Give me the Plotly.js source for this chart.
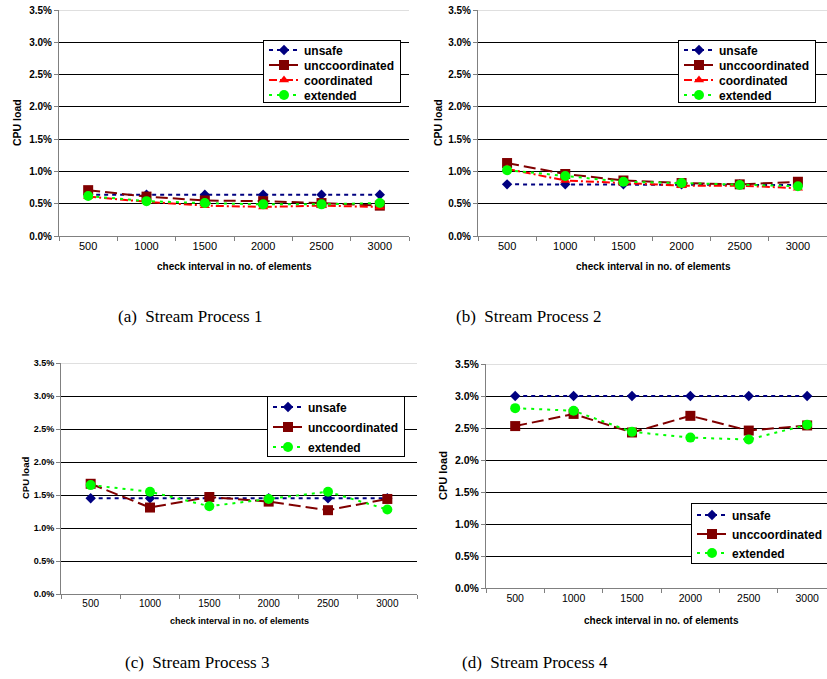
<!DOCTYPE html>
<html><head><meta charset="utf-8">
<script src="https://cdn.plot.ly/plotly-3.0.1.min.js"></script>
<style>html,body{margin:0;padding:0;background:#fff}#chart{width:827px;height:679px}</style>
</head><body><div id="chart"></div>
<script>
// ---------- data ----------
const categories = ['500', '1000', '1500', '2000', '2500', '3000'];
const seriesNames = ['unsafe', 'unccoordinated', 'coordinated', 'extended'];

// (a) Stream Process 1  (CPU load, %)
const sp1Unsafe   = [0.64, 0.64, 0.64, 0.64, 0.64, 0.64];
const sp1Uncoord  = [0.71, 0.61, 0.55, 0.54, 0.51, 0.47];
const sp1Coord    = [0.61, 0.53, 0.47, 0.45, 0.47, 0.45];
const sp1Extended = [0.62, 0.54, 0.51, 0.49, 0.49, 0.51];
// (b) Stream Process 2
const sp2Unsafe   = [0.80, 0.80, 0.80, 0.80, 0.80, 0.79];
const sp2Uncoord  = [1.13, 0.96, 0.86, 0.82, 0.80, 0.84];
const sp2Coord    = [1.04, 0.86, 0.82, 0.78, 0.78, 0.74];
const sp2Extended = [1.02, 0.93, 0.84, 0.82, 0.79, 0.77];
// (c) Stream Process 3
const sp3Unsafe   = [1.45, 1.45, 1.45, 1.45, 1.45, 1.45];
const sp3Uncoord  = [1.67, 1.31, 1.47, 1.40, 1.27, 1.44];
const sp3Extended = [1.65, 1.55, 1.33, 1.44, 1.55, 1.28];
// (d) Stream Process 4
const sp4Unsafe   = [3.00, 3.00, 3.00, 3.00, 3.00, 3.00];
const sp4Uncoord  = [2.53, 2.72, 2.43, 2.69, 2.46, 2.54];
const sp4Extended = [2.81, 2.77, 2.44, 2.35, 2.32, 2.55];

const yTickVals = [0, 0.5, 1.0, 1.5, 2.0, 2.5, 3.0, 3.5];
const yTickText = ['0.0%', '0.5%', '1.0%', '1.5%', '2.0%', '2.5%', '3.0%', '3.5%'];
const xTitle = 'check interval in no. of elements';
const yTitle = 'CPU load';
const captions = ['(a)\u00a0 Stream Process 1', '(b)\u00a0 Stream Process 2',
                  '(c)\u00a0 Stream Process 3', '(d)\u00a0 Stream Process 4'];

// ---------- styling ----------
const W = 827, H = 679;
const px = x => x / W;
const py = y => 1 - y / H;
const SANS = 'Liberation Sans, Arial, sans-serif';
const SERIF = 'Liberation Serif, Times New Roman, serif';

const style = {
  unsafe:   {color: '#000080', dash: '4px,4px',          symbol: 'diamond',     size: 8},
  uncoord:  {color: '#800000', dash: '12px,5px',         symbol: 'square',      size: 10},
  coord:    {color: '#ff0000', dash: '8px,3px,2px,3px',  symbol: 'triangle-up', size: 9},
  extended: {color: '#00ff00', dash: '3px,5px',          symbol: 'circle',      size: 10}
};

const panels = [
  {l: 59,  r: 409, t: 10,  b: 236, xr: [-0.5, 5.5],  leg: [263, 40], legGap: 15, legFirst: 10, legPad: 7,
   ytf: 10, xtf: 11, xtl: 10, ytl: 10.5, xt: [234, 267], yt: [17, 123], cap: [190, 316],
   series: [['unsafe', sp1Unsafe, 0], ['uncoord', sp1Uncoord, 1], ['coord', sp1Coord, 2], ['extended', sp1Extended, 3]]},
  {l: 478, r: 827, t: 10,  b: 236, xr: [-0.5, 5.5],  leg: [678, 40], legGap: 15, legFirst: 10, legPad: 7,
   ytf: 10, xtf: 11, xtl: 10, ytl: 10.5, xt: [653, 267], yt: [438, 123], cap: [528, 316],
   series: [['unsafe', sp2Unsafe, 0], ['uncoord', sp2Uncoord, 1], ['coord', sp2Coord, 2], ['extended', sp2Extended, 3]]},
  {l: 61,  r: 417, t: 363, b: 594, xr: [-0.5, 5.5],  leg: [267, 396], legGap: 20, legFirst: 11, legPad: 9,
   ytf: 9, xtf: 10, xtl: 9, ytl: 9.5, xt: [239, 621], yt: [25, 478], cap: [197, 662],
   series: [['unsafe', sp3Unsafe, 0], ['uncoord', sp3Uncoord, 1], ['extended', sp3Extended, 3]]},
  {l: 486, r: 827, t: 364, b: 588, xr: [-0.5, 5.34], leg: [691, 503], legGap: 19, legFirst: 12, legPad: 10,
   ytf: 10.5, xtf: 10.5, xtl: 10, ytl: 11, xt: [661, 620], yt: [443, 476], cap: [535, 662],
   series: [['unsafe', sp4Unsafe, 0], ['uncoord', sp4Uncoord, 1], ['extended', sp4Extended, 3]]}
];

const data = [];
const layout = {
  width: W, height: H,
  margin: {l: 0, r: 0, t: 0, b: 0, autoexpand: false},
  paper_bgcolor: '#ffffff', plot_bgcolor: '#ffffff',
  showlegend: true,
  font: {family: SANS, color: '#000'},
  annotations: [], shapes: []
};

panels.forEach((p, i) => {
  const n = i === 0 ? '' : String(i + 1);
  const xa = 'xaxis' + n, ya = 'yaxis' + n;
  const legName = 'legend' + n;
  p.legName = legName;
  layout[xa] = {
    type: 'category', domain: [px(p.l), px(p.r)], range: p.xr, anchor: 'y' + n,
    showline: true, linecolor: '#808080', linewidth: 1,
    ticks: 'outside', tickson: 'boundaries', ticklen: 4, tickcolor: '#808080',
    tickfont: {family: SANS, size: p.xtf, color: '#000'},
    showgrid: false, zeroline: false, fixedrange: true
  };
  layout[ya] = {
    domain: [py(p.b), py(p.t)], range: [0, 3.5], anchor: 'x' + n,
    tickmode: 'array', tickvals: yTickVals, ticktext: yTickText,
    showline: true, linecolor: '#808080', linewidth: 1,
    ticks: 'outside', ticklen: 4, tickcolor: '#808080',
    tickfont: {family: SANS, size: p.ytf, color: '#000', weight: 'bold'},
    showgrid: true, gridcolor: '#000000', gridwidth: 1, zeroline: false, fixedrange: true
  };
  layout[legName] = {
    x: px(p.leg[0]), y: py(p.leg[1]), xanchor: 'left', yanchor: 'top',
    bgcolor: '#ffffff', bordercolor: '#000000', borderwidth: 1,
    font: {family: SANS, size: 12, color: '#000', weight: 'bold'},
    itemwidth: 30, tracegroupgap: 0
  };
  p.series.forEach(([key, vals, nameIdx]) => {
    const s = style[key];
    data.push({
      type: 'scatter', mode: 'lines+markers', x: categories, y: vals,
      name: seriesNames[nameIdx], xaxis: 'x' + n, yaxis: 'y' + n, legend: legName,
      line: {color: s.color, width: 2, dash: s.dash},
      marker: {color: s.color, symbol: s.symbol, size: s.size, line: {width: 0}},
      hoverinfo: 'x+y+name'
    });
  });
  // light grey top border of plot area
  layout.shapes.push({type: 'line', xref: 'x' + n + ' domain', yref: 'y' + n,
    x0: 0, x1: 1, y0: 3.5, y1: 3.5, line: {color: '#c0c0c0', width: 1}, layer: 'above'});
  // axis titles
  layout.annotations.push({xref: 'paper', yref: 'paper', x: px(p.xt[0]), y: py(p.xt[1]),
    text: xTitle, showarrow: false, xanchor: 'center', yanchor: 'middle',
    font: {family: SANS, size: p.xtl, color: '#000', weight: 'bold'}});
  layout.annotations.push({xref: 'paper', yref: 'paper', x: px(p.yt[0]), y: py(p.yt[1]),
    text: yTitle, showarrow: false, textangle: -90, xanchor: 'center', yanchor: 'middle',
    font: {family: SANS, size: p.ytl, color: '#000', weight: 'bold'}});
  // caption
  layout.annotations.push({xref: 'paper', yref: 'paper', x: px(p.cap[0]), y: py(p.cap[1]),
    text: captions[i], showarrow: false, xanchor: 'center', yanchor: 'middle',
    font: {family: SERIF, size: 17, color: '#000'}});
});

// compact the legend rows after Plotly has laid them out (Excel-style tight legend)
function compactLegends(gd) {
  panels.forEach(p => {
    const g = gd.querySelector('g.infolayer > g.' + p.legName);
    if (!g) return;
    const items = g.querySelectorAll('g.traces');
    items.forEach((it, k) => {
      const m = /translate\(\s*([-\d.]+)[ ,]+([-\d.]+)\s*\)/.exec(it.getAttribute('transform') || '');
      const x = m ? parseFloat(m[1]) : 1;
      it.setAttribute('transform', 'translate(' + x + ',' + (p.legFirst + k * p.legGap) + ')');
    });
    const bg = g.querySelector('rect.bg');
    if (bg) bg.setAttribute('height', p.legFirst + (items.length - 1) * p.legGap + p.legPad);
  });
}

Plotly.newPlot('chart', data, layout, {displayModeBar: false, staticPlot: true})
  .then(compactLegends);
</script></body></html>
